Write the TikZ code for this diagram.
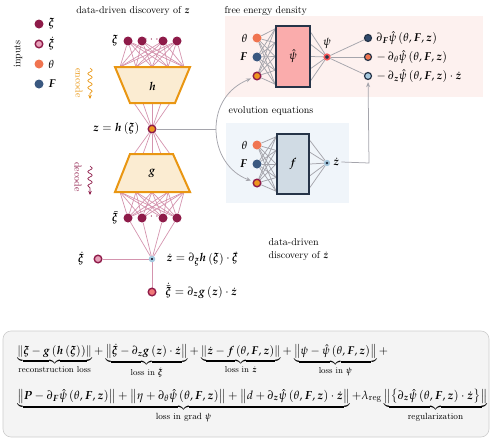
\documentclass[tikz,border=0pt]{standalone}
\usepackage{amsmath}
\usepackage[sc]{mathpazo}
\usepackage{bm}
\usetikzlibrary{calc,arrows.meta,decorations.pathmorphing}
\definecolor{xicol}{RGB}{142,27,73}
\definecolor{xipink}{RGB}{232,160,185}
\definecolor{thcol}{RGB}{240,116,80}
\definecolor{Fcol}{RGB}{58,88,128}
\definecolor{zorange}{RGB}{238,150,30}
\definecolor{pinkline}{RGB}{212,148,174}
\definecolor{traporange}{RGB}{233,150,18}
\definecolor{trapfill}{RGB}{251,236,210}
\definecolor{navy}{RGB}{38,52,72}
\definecolor{psifill}{RGB}{250,172,172}
\definecolor{ffill}{RGB}{208,219,228}
\definecolor{febg}{RGB}{253,241,239}
\definecolor{evbg}{RGB}{240,245,250}
\definecolor{grayline}{RGB}{165,165,172}
\definecolor{psired}{RGB}{245,88,88}
\definecolor{lightblue}{RGB}{165,200,222}
\definecolor{salmon}{RGB}{240,120,120}
\definecolor{boxbg}{RGB}{244,244,244}
\definecolor{boxline}{RGB}{205,205,205}
\pgfdeclarelayer{back}
\pgfdeclarelayer{mid}
\pgfsetlayers{back,mid,main}
\begin{document}
\begin{tikzpicture}[x=1pt,y=-1pt,
  font=\fontsize{11.5}{13.8}\selectfont,
  dotb/.style={circle,inner sep=0pt,minimum size=9pt},
  xidot/.style={dotb,fill=xicol},
  xiddot/.style={dotb,minimum size=7.6pt,fill=xipink,draw=xicol,line width=1.4pt},
  thdot/.style={dotb,fill=thcol},
  Fdot/.style={dotb,fill=Fcol},
  zdot/.style={dotb,minimum size=7.6pt,fill=zorange,draw=xicol,line width=1.4pt},
  outdot/.style={dotb,minimum size=7pt,draw=navy,line width=1.2pt},
  pline/.style={draw=pinkline,line width=0.7pt},
  gline/.style={draw=grayline,line width=0.75pt},
  trap/.style={draw=traporange,fill=trapfill,line width=2pt},
  netbox/.style={draw=navy,line width=1.8pt,inner sep=0pt},
  lab/.style={font=\fontsize{10}{13}\fontfamily{ppl}\fontshape{it}\selectfont},
  small10/.style={font=\fontsize{10}{12}\selectfont},
  wavy/.style={line width=0.7pt,decorate,decoration={snake,amplitude=2.2pt,segment length=7pt,post length=4pt},-{Stealth[length=4pt,width=3.5pt]}}
]
\useasboundingbox (0,0) rectangle (498,439);

% ---------- backgrounds ----------
\begin{pgfonlayer}{back}
\fill[febg] (225,16) rectangle (483,97);
\fill[evbg] (226,123) rectangle (349,203);
\draw[rounded corners=8pt,fill=boxbg,draw=boxline,line width=0.6pt] (3,331) rectangle (489,437);
\end{pgfonlayer}

% ---------- legend ----------
\node[lab,rotate=90] (inputs) at (18,54) {inputs};
\node[xidot] (lxi) at (39,24) {};
\node[xiddot] (lxid) at (39,44) {};
\node[thdot] (lth) at (39,64) {};
\node[Fdot] (lF) at (39,84) {};
\node[right] (lxit) at (45,24) {$\bm\xi$};
\node[right] (lxidt) at (45,44) {$\dot{\bm\xi}$};
\node[right] (ltht) at (45,64) {$\theta$};
\node[right] (lFt) at (45,84) {$\bm F$};

% ---------- titles ----------
\node[lab] (t1) at (133,11) {data-driven discovery of $\bm z$};
\node[lab,right] (t2) at (221,11) {free energy density};
\node[lab,right] (t3) at (225,111) {evolution equations};
\node[lab,align=left,anchor=west] (t4) at (265,250) {data-driven\\discovery of $\dot{\bm z}$};

% ---------- encoder ----------
\foreach \i/\x in {1/128,2/142,3/163,4/177} \node[xidot] (t\i) at (\x,41) {};
\node[xicol,inner sep=0pt] (tdots) at (152.5,40) {$\cdots$};
\node (xilab) at (115,41) {$\bm\xi$};
\draw[trap] (115,67) -- (190,67) -- (175,103) -- (130,103) -- cycle;
\node (hlab) at (152.5,86) {$\bm h$};
\foreach \j/\x in {1/120,2/136,3/152,4/168,5/184} \coordinate (ht\j) at (\x,67);
\foreach \j/\x in {1/134,2/143,3/152,4/161,5/170} \coordinate (hb\j) at (\x,103);
\node[zdot] (zenc) at (152,129) {};
\node[left] (zenclab) at (143,129) {$\bm z=\bm h\left(\bm\xi\right)$};

\draw[trap] (130,154) -- (173,154) -- (190,192) -- (115,192) -- cycle;
\node (glab) at (152,173) {$\bm g$};
\foreach \j/\x in {1/134,2/143,3/152,4/161,5/170} \coordinate (gt\j) at (\x,154);
\foreach \j/\x in {1/120,2/136,3/152,4/168,5/184} \coordinate (gb\j) at (\x,192);
\foreach \i/\x in {1/128,2/142,3/163,4/177} \node[xidot] (b\i) at (\x,218) {};
\node[xicol,inner sep=0pt] (bdots) at (152.5,217) {$\cdots$};
\node (xbarlab) at (115,218) {$\bar{\bm\xi}$};

\coordinate (ens) at (90,68); \coordinate (ene) at (90,99);
\draw[wavy,traporange] (ens) -- (ene);
\node[small10,rotate=-90,text=traporange] (enc) at (79,83) {encode};
\coordinate (des) at (90,166); \coordinate (dee) at (90,195);
\draw[wavy,xicol] (des) -- (dee);
\node[small10,rotate=-90,text=xicol] (dec) at (78,177) {decode};

\node[dotb,minimum size=4.6pt,fill=navy,draw=lightblue,line width=1.8pt] (zd) at (152,259) {};
\node[xiddot] (xd) at (98,259) {};
\node (xdlab) at (81,259) {$\dot{\bm\xi}$};
\node[dotb,minimum size=7.6pt,fill=salmon,draw=xicol,line width=1.4pt] (xh) at (152,292) {};
\node[right] (zdeq) at (163,259) {$\dot{\bm z}=\partial_{\bm\xi}\bm h\left(\bm\xi\right)\cdot\dot{\bm\xi}$};
\node[right] (xheq) at (162,291) {$\dot{\bar{\bm\xi}}=\partial_{\bm z}\bm g\left(\bm z\right)\cdot\dot{\bm z}$};

\begin{pgfonlayer}{mid}
\foreach \i in {1,...,4} \foreach \j in {1,...,5} \draw[pline] (t\i) -- (ht\j);
\foreach \j in {1,...,5} \draw[pline] (hb\j) -- (zenc);
\foreach \j in {1,...,5} \draw[pline] (zenc) -- (gt\j);
\foreach \i in {1,...,4} \foreach \j in {1,...,5} \draw[pline] (gb\j) -- (b\i);
\foreach \i in {1,...,4} \draw[pline] (b\i) -- (zd);
\draw[pline] (xd) -- (zd);
\draw[pline] (zd) -- (xh);
\end{pgfonlayer}

% ---------- free energy network ----------
\node[thdot] (th1) at (257,38) {};
\node[Fdot] (F1) at (257,57) {};
\node[zdot] (z1) at (257,76) {};
\node[left] (th1l) at (251,38) {$\theta$};
\node[left] (F1l) at (251,57) {$\bm F$};
\node[netbox,fill=psifill,minimum width=34pt,minimum height=61pt] (psibox) at (293,56.5) {$\hat\psi$};
\node[dotb,minimum size=5.6pt,fill=navy,draw=psired,line width=1.6pt] (psi) at (327,57) {};
\node (psil) at (327,43) {$\psi$};
\node[outdot,fill=Fcol!85!black] (o1) at (368,38) {};
\node[outdot,fill=thcol] (o2) at (368,57) {};
\node[outdot,fill=lightblue] (o3) at (368,76) {};
\node[right] (o1l) at (373,38) {$\partial_{\bm F}\hat\psi\left(\theta,\bm F,\bm z\right)$};
\node[right] (o2l) at (373,57) {$-\,\partial_{\theta}\hat\psi\left(\theta,\bm F,\bm z\right)$};
\node[right] (o3l) at (373,76) {$-\,\partial_{\bm z}\hat\psi\left(\theta,\bm F,\bm z\right)\cdot\dot{\bm z}$};
\foreach \k/\t in {1/0.06,2/0.28,3/0.5,4/0.72,5/0.94} \coordinate (pl\k) at ($(psibox.north west)!\t!(psibox.south west)$);
\foreach \k/\t in {1/0.12,2/0.31,3/0.5,4/0.69,5/0.88} \coordinate (pr\k) at ($(psibox.north east)!\t!(psibox.south east)$);

% ---------- evolution network ----------
\node[thdot] (th2) at (257,145) {};
\node[Fdot] (F2) at (257,164) {};
\node[zdot] (z2) at (257,183) {};
\node[left] (th2l) at (251,145) {$\theta$};
\node[left] (F2l) at (251,164) {$\bm F$};
\node[netbox,fill=ffill,minimum width=32pt,minimum height=60pt] (fbox) at (293,164) {$\bm f$};
\node[dotb,minimum size=4.6pt,fill=navy,draw=lightblue,line width=1.6pt] (zd2) at (327,163) {};
\node[right,inner sep=2pt] (zd2l) at (331,162) {$\dot{\bm z}$};
\foreach \k/\t in {1/0.06,2/0.28,3/0.5,4/0.72,5/0.94} \coordinate (fl\k) at ($(fbox.north west)!\t!(fbox.south west)$);
\foreach \k/\t in {1/0.12,2/0.31,3/0.5,4/0.69,5/0.88} \coordinate (fr\k) at ($(fbox.north east)!\t!(fbox.south east)$);

\coordinate (sp) at (216,129);
\coordinate (cn) at (369,163);
\begin{pgfonlayer}{mid}
\foreach \n in {th1,F1,z1} \foreach \k in {1,...,5} \draw[gline] (\n) -- (pl\k);
\foreach \k in {1,...,5} \draw[gline] (pr\k) -- (psi);
\foreach \n in {o1,o2,o3} \draw[gline] (psi) -- (\n);
\foreach \n in {th2,F2,z2} \foreach \k in {1,...,5} \draw[gline] (\n) -- (fl\k);
\foreach \k in {1,...,5} \draw[gline] (fr\k) -- (zd2);
\draw[gline] (zenc) -- (sp);
\draw[gline,-{Stealth[length=5pt,width=4pt]},shorten >=2pt] (sp) .. controls (216,106) and (228,88) .. (z1);
\draw[gline,-{Stealth[length=5pt,width=4pt]},shorten >=2pt] (sp) .. controls (216,152) and (228,172) .. (z2);
\draw[gline,-{Stealth[length=5pt,width=4pt]},shorten >=2pt] (zd2l.east) -- (cn) -- (o3);
\end{pgfonlayer}

% ---------- loss ----------
\node[anchor=north west,inner sep=0pt] (loss1) at (17,344) {\resizebox{371pt}{!}{$\displaystyle
\underbrace{\left\|\bm\xi-\bm g\left(\bm h\left(\bm\xi\right)\right)\right\|}_{\text{reconstruction loss}}
+\underbrace{\left\|\dot{\bm\xi}-\partial_{\bm z}\bm g\left(\bm z\right)\cdot\dot{\bm z}\right\|}_{\text{loss in }\dot{\bm\xi}}
+\underbrace{\left\|\dot{\bm z}-\bm f\left(\theta,\bm F,\bm z\right)\right\|}_{\text{loss in }\dot{\bm z}}
+\underbrace{\left\|\psi-\hat\psi\left(\theta,\bm F,\bm z\right)\right\|}_{\text{loss in }\psi}+$}};
\node[anchor=north west,inner sep=0pt] (loss2) at (17,389) {\resizebox{470pt}{!}{$\displaystyle
\underbrace{\left\|\bm P-\partial_{\bm F}\hat\psi\left(\theta,\bm F,\bm z\right)\right\|+\left\|\eta+\partial_{\theta}\hat\psi\left(\theta,\bm F,\bm z\right)\right\|+\left\|d+\partial_{\bm z}\hat\psi\left(\theta,\bm F,\bm z\right)\cdot\dot{\bm z}\right\|}_{\text{loss in grad }\psi}
+\lambda_{\text{reg}}\underbrace{\left\|\left\{\partial_{\bm z}\hat\psi\left(\theta,\bm F,\bm z\right)\cdot\dot{\bm z}\right\}\right\|}_{\text{regularization}}$}};
\end{tikzpicture}
\end{document}
